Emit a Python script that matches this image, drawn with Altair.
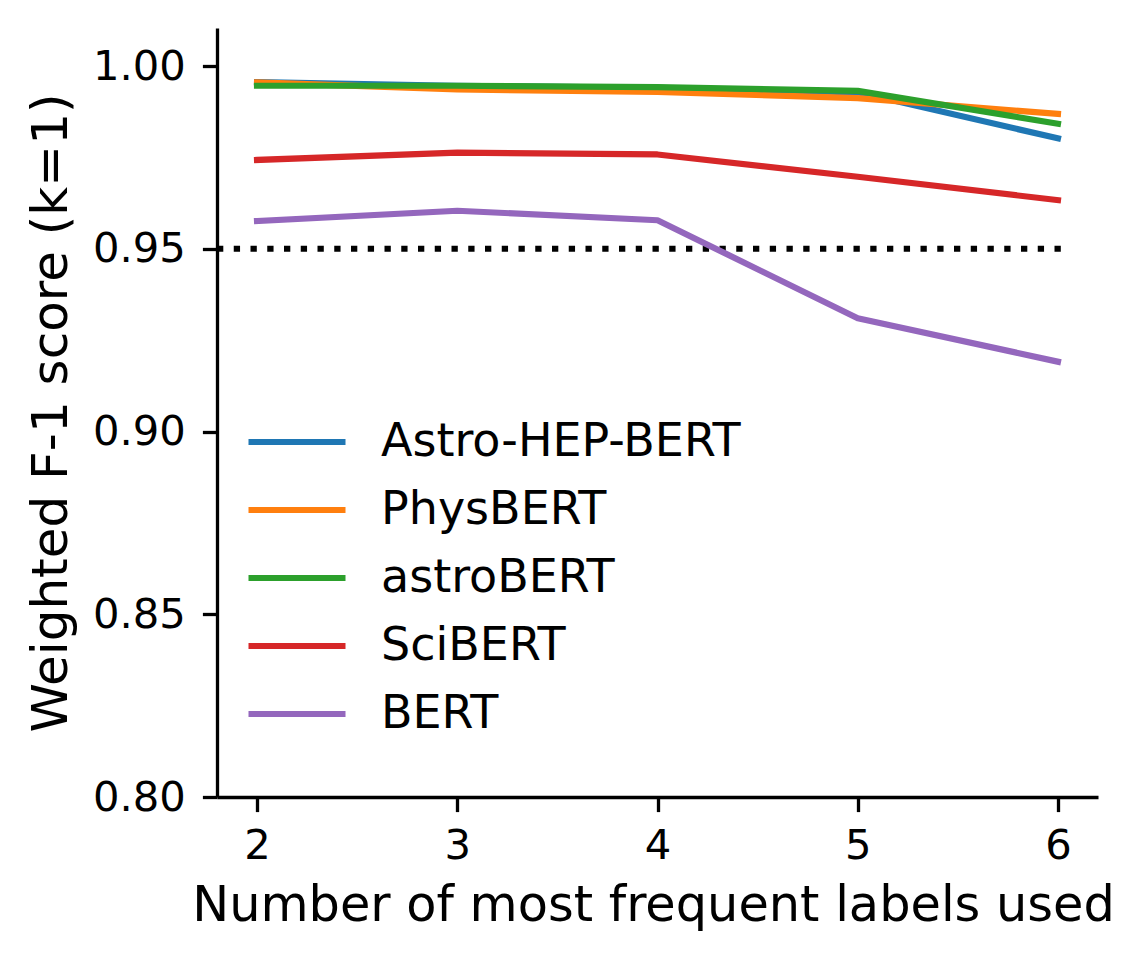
import altair as alt
import pandas as pd

# ---- data ----
labels_used = [2, 3, 4, 5, 6]
models = ["Astro-HEP-BERT", "PhysBERT", "astroBERT", "SciBERT", "BERT"]
astro_hep_bert = [0.9956, 0.9946, 0.9940, 0.9928, 0.9802]
physbert = [0.9955, 0.9936, 0.9929, 0.9912, 0.9869]
astrobert = [0.9946, 0.9946, 0.9942, 0.9932, 0.9842]
scibert = [0.9743, 0.9763, 0.9758, 0.9697, 0.9633]
bert = [0.9576, 0.9604, 0.9578, 0.9310, 0.9191]
colors = ["#1f77b4", "#ff7f0e", "#2ca02c", "#d62728", "#9467bd"]
threshold = 0.95
threshold_x = [1.8, 6.02]
y_ticks = [0.80, 0.85, 0.90, 0.95, 1.00]
x_ticks = [2, 3, 4, 5, 6]

series = [astro_hep_bert, physbert, astrobert, scibert, bert]
rows = []
for order, (m, vals) in enumerate(zip(models, series)):
    for x, v in zip(labels_used, vals):
        rows.append({"model": m, "n": x, "f1": v, "order": order})
df = pd.DataFrame(rows)

thr_df = pd.DataFrame({"x": [threshold_x[0]], "x2": [threshold_x[1]], "y": [threshold]})

FONT = "DejaVu Sans"

x_scale = alt.Scale(domain=[1.8, 6.2], nice=False, zero=False)
y_scale = alt.Scale(domain=[0.80, 1.0104], nice=False, zero=False)

lines = alt.Chart(df).mark_line(strokeWidth=6.2, strokeCap="square", strokeJoin="round").encode(
    x=alt.X("n:Q", scale=x_scale,
            axis=alt.Axis(title="Number of most frequent labels used", values=x_ticks, format="d",
                          titleX=436, titleFontSize=49.4)),
    y=alt.Y("f1:Q", scale=y_scale,
            axis=alt.Axis(title="Weighted F-1 score (k=1)", values=y_ticks, format=".2f")),
    color=alt.Color("model:N", scale=alt.Scale(domain=models, range=colors),
                    legend=alt.Legend(title=None, orient="none", legendX=28, legendY=380,
                                      symbolType="stroke", symbolSize=9409, symbolStrokeWidth=6.2,
                                      clipHeight=68, rowPadding=0, padding=0, labelOffset=32,
                                      labelFontSize=46, labelFont=FONT, labelColor="black",
                                      labelLimit=0)),
    order=alt.Order("order:Q"),
    detail="model:N",
)

thr = alt.Chart(thr_df).mark_rule(color="black", strokeWidth=6.2, strokeDash=[6.3, 10.45], strokeCap="butt").encode(
    x=alt.X("x:Q", scale=x_scale),
    x2="x2:Q",
    y=alt.Y("y:Q", scale=y_scale),
)

chart = alt.layer(thr, lines).properties(
    width=881, height=769,
    autosize=alt.AutoSizeParams(type="none"),
    padding={"left": 209, "top": 20, "right": 20, "bottom": 150},
).configure_view(stroke=None).configure_axis(
    grid=False,
    domainColor="black", domainWidth=3.3,
    tickColor="black", tickWidth=3.3, tickSize=14.6,
    labelFont=FONT, labelFontSize=41.7, labelColor="black",
    titleFont=FONT, titleFontSize=50, titleFontWeight="normal", titleColor="black",
).configure_axisX(labelPadding=14, titlePadding=14).configure_axisY(labelPadding=17, titlePadding=16)

chart.save("out.html", embed_options={"renderer": "svg", "actions": False})
